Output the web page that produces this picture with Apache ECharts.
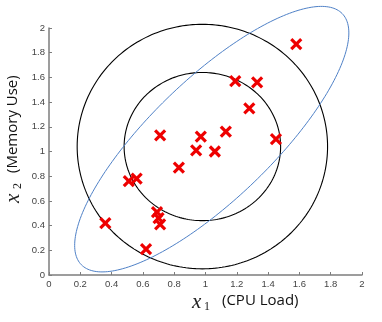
<!DOCTYPE html>
<html><head><meta charset="utf-8">
<script src="https://cdn.jsdelivr.net/npm/echarts@6/dist/echarts.min.js"></script>
<style>html,body{margin:0;padding:0;background:#fff}#chart{width:382px;height:322px}</style>
</head><body><div id="chart"></div>
<script>
// Observed samples: CPU load (x1) and memory use (x2)
const cpuLoad   = [1.58, 1.19, 1.33, 1.28, 1.13, 1.45, 0.71, 0.97, 0.94, 1.06, 0.83, 0.51, 0.56, 0.69, 0.70, 0.71, 0.36, 0.62];
const memoryUse = [1.87, 1.57, 1.56, 1.35, 1.16, 1.10, 1.13, 1.12, 1.01, 1.00, 0.87, 0.76, 0.78, 0.51, 0.46, 0.41, 0.42, 0.21];

// Tick labels, 0 to 2 in steps of 0.2
const xTickLabels = ['0', '0.2', '0.4', '0.6', '0.8', '1', '1.2', '1.4', '1.6', '1.8', '2'];
const yTickLabels = ['0', '0.2', '0.4', '0.6', '0.8', '1', '1.2', '1.4', '1.6', '1.8', '2'];

// Independent-feature model: centre and [spread x1, spread x2] of each contour ring
const ringCentre = [0.98, 1.04];
const ringSpreads = [[0.80, 0.99], [0.50, 0.60]];

// Correlated model: centre, spreads and correlation of its contour
const tiltCentre = [1.04, 1.10];
const tiltSpread = [0.876, 1.075];
const tiltCorr = 0.80;

const AXIS_GREY = '#7d7d7d';
const STEP = 0.2;

const samples = cpuLoad.map((x, i) => [x, memoryUse[i]]);
const rings = ringSpreads.map(s => [ringCentre[0], ringCentre[1], s[0], s[1], 0]);
const tilted = [[tiltCentre[0], tiltCentre[1], tiltSpread[0], tiltSpread[1], tiltCorr]];

// Draws the contour x = mu + L*(cos t, sin t), L the Cholesky factor of the covariance
function contourItem(stroke, width) {
  return function (params, api) {
    const cx = api.value(0), cy = api.value(1);
    const s1 = api.value(2), s2 = api.value(3), r = api.value(4);
    const k = Math.sqrt(1 - r * r);
    const pts = [];
    const n = 240;
    for (let i = 0; i < n; i++) {
      const t = 2 * Math.PI * i / n;
      const u = Math.cos(t), v = Math.sin(t);
      pts.push(api.coord([cx + s1 * u, cy + s2 * (r * u + k * v)]));
    }
    return {
      type: 'polygon',
      shape: { points: pts },
      style: { fill: 'none', stroke: stroke, lineWidth: width },
      silent: true
    };
  };
}

// Red cross marker for each sample
function crossItem(params, api) {
  const p = api.coord([api.value(0), api.value(1)]);
  const h = 5;
  const style = { stroke: '#ee0000', lineWidth: 3.2 };
  return {
    type: 'group',
    children: [
      { type: 'line', shape: { x1: p[0] - h, y1: p[1] - h, x2: p[0] + h, y2: p[1] + h }, style: style },
      { type: 'line', shape: { x1: p[0] - h, y1: p[1] + h, x2: p[0] + h, y2: p[1] - h }, style: style }
    ]
  };
}

function axisCommon(labels) {
  return {
    type: 'value',
    min: 0,
    max: 2,
    interval: STEP,
    axisLine: { show: true, onZero: false, lineStyle: { color: AXIS_GREY, width: 1.5 } },
    axisTick: { show: true, inside: true, length: 3, lineStyle: { color: AXIS_GREY, width: 1 } },
    axisLabel: {
      formatter: v => labels[Math.round(v / STEP)],
      color: '#444',
      fontSize: 9.5,
      fontFamily: 'Liberation Sans, Arial, sans-serif',
      margin: 4,
      showMinLabel: true,
      showMaxLabel: true,
      hideOverlap: false
    },
    splitLine: { show: false }
  };
}

const serif = 'Liberation Serif, Times New Roman, serif';
const sans = 'Open Sans, Noto Sans, sans-serif';

const chart = echarts.init(document.getElementById('chart'), null, { renderer: 'canvas' });
chart.setOption({
  animation: false,
  backgroundColor: '#fff',
  grid: { left: 49, right: 20, top: 28, bottom: 47, containLabel: false },
  xAxis: axisCommon(xTickLabels),
  yAxis: axisCommon(yTickLabels),
  series: [
    { type: 'custom', name: 'rings', data: rings, renderItem: contourItem('#000', 1.1), clip: false, z: 2 },
    { type: 'custom', name: 'tilted', data: tilted, renderItem: contourItem('#4f81c7', 1), clip: false, z: 2 },
    { type: 'custom', name: 'samples', data: samples, renderItem: crossItem, clip: false, z: 3 }
  ],
  graphic: [
    // x-axis title
    { type: 'text', left: 192, top: 292, style: { text: 'x', font: 'italic 21px ' + serif, fill: '#222' } },
    { type: 'text', left: 204, top: 301, style: { text: '1', font: '12px ' + serif, fill: '#222' } },
    { type: 'text', left: 222, top: 293, style: { text: '(CPU Load)', font: '15px ' + sans, fill: '#111' } },
    // y-axis title, reading upwards
    { type: 'text', x: 3, y: 203, rotation: Math.PI / 2, style: { text: 'x', font: 'italic 21px ' + serif, fill: '#222', textVerticalAlign: 'top' } },
    { type: 'text', x: 12, y: 189, rotation: Math.PI / 2, style: { text: '2', font: '12px ' + serif, fill: '#222', textVerticalAlign: 'top' } },
    { type: 'text', x: 5, y: 173, rotation: Math.PI / 2, style: { text: '(Memory Use)', font: '15px ' + sans, fill: '#111', textVerticalAlign: 'top' } }
  ]
});
</script>
</body></html>
